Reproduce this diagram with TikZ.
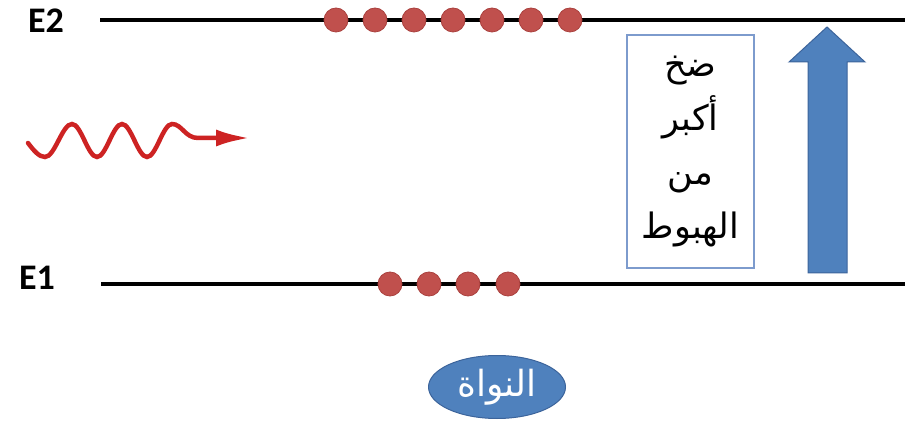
\documentclass[tikz,border=0pt]{standalone}
\usepackage{fontspec}
\setmainfont{Carlito}
\newfontfamily\arabicfont[Script=Arabic]{DejaVu Sans}
\TeXXeTstate=1
\usetikzlibrary{shapes.geometric,arrows.meta}
\definecolor{dotred}{RGB}{192,80,77}
\definecolor{dotedge}{RGB}{170,65,62}
\definecolor{blockblue}{RGB}{79,129,189}
\definecolor{blockedge}{RGB}{60,100,155}
\definecolor{boxedge}{RGB}{125,155,205}
\definecolor{waver}{RGB}{205,35,35}
\tikzset{
  lvllbl/.style={font=\fontsize{36}{36}\selectfont\bfseries, inner sep=0pt},
  level/.style={line width=4pt, black},
  electron/.style={circle, fill=dotred, draw=dotedge, line width=0.8pt, minimum size=24pt, inner sep=0pt},
  wave/.style={line width=4.5pt, waver, line cap=round},
  infobox/.style={draw=boxedge, line width=1.5pt, minimum width=127pt, minimum height=233pt, align=center, inner sep=0pt,
    font=\arabicfont\fontsize{35}{54}\selectfont},
  nucleus/.style={ellipse, fill=blockblue, draw=blockedge, line width=1pt, minimum width=137pt, minimum height=63pt,
    inner sep=0pt, text=white, font=\arabicfont\fontsize{36}{36}\selectfont}
}
\begin{document}
\begin{tikzpicture}[x=1pt,y=-1pt]
\useasboundingbox (0,0) rectangle (905,430);
% levels
\node[lvllbl] (E2) at (46,21) {E2};
\node[lvllbl] (E1) at (37,278) {E1};
\coordinate (e2a) at (100,20); \coordinate (e2b) at (905,20);
\coordinate (e1a) at (101,284); \coordinate (e1b) at (905,284);
\draw[level] (e2a) -- (e2b);
\draw[level] (e1a) -- (e1b);
\foreach \x [count=\n] in {336,375,414,453,492,531,570}
  \node[electron] (u\n) at (\x,20) {};
\foreach \x [count=\n] in {390,429,468,508}
  \node[electron] (l\n) at (\x,284) {};
% photon
\coordinate (w0) at (28,143);
\coordinate (wend) at (250,138);
\draw[wave, -{Latex[length=34pt,width=17pt]}] (w0) sin (45,157) cos (58.5,140.5) sin (72,124) cos (84.5,140.5) sin (97,157)
  cos (109.5,140.5) sin (122,124) cos (134.5,140.5) sin (147,157) cos (159.5,140.5) sin (172,124)
  .. controls (182,124) and (185,138) .. (198,138) -- (wend);
% box
\node[infobox] (box) at (690.5,151.5) {\beginR ضخ\endR\\ \beginR أكبر\endR\\ \beginR من\endR\\ \beginR الهبوط\endR};
% blue arrow
\draw[fill=blockblue, draw=blockedge, line width=1pt]
  (808,273) -- (808,62) -- (789,62) -- (827,27) -- (865,62) -- (847,62) -- (847,273) -- cycle;
% nucleus
\node[nucleus] (nuc) at (497,387) {\beginR النواة\endR};
\end{tikzpicture}
\end{document}
